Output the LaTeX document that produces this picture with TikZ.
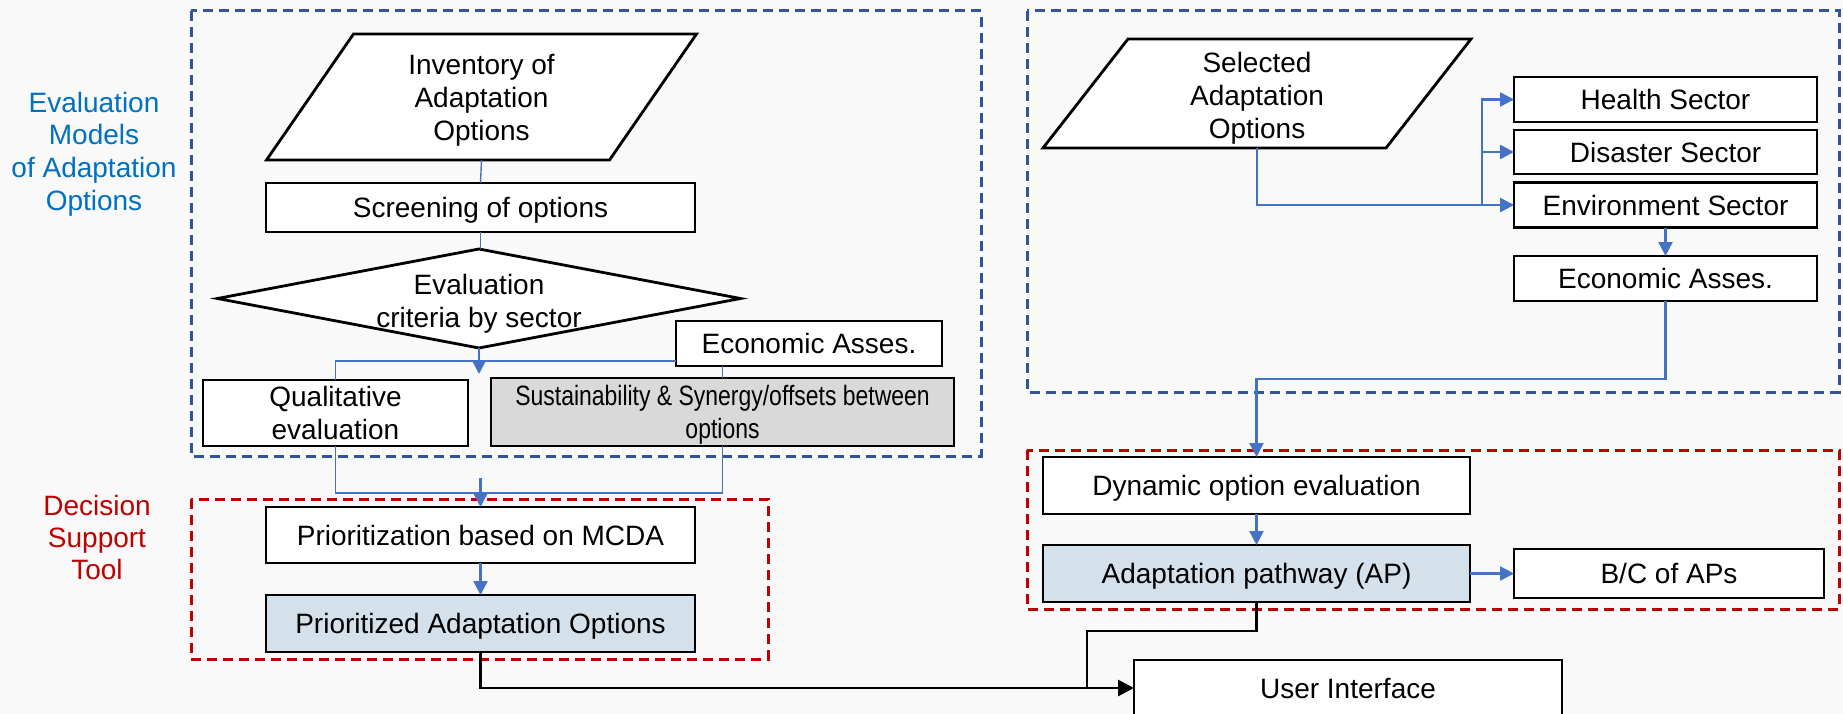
\documentclass[tikz,border=0pt]{standalone}
\usepackage{fontspec}
\setmainfont{Liberation Sans}
\newfontfamily\narrowfont{Liberation Sans}[FakeStretch=0.82]
\usetikzlibrary{arrows.meta,shapes.geometric,calc}

\definecolor{pagebg}{HTML}{F9F9F9}
\definecolor{frameblue}{HTML}{2F5597}
\definecolor{linkblue}{HTML}{4472C4}
\definecolor{framered}{HTML}{C00000}
\definecolor{labelblue}{HTML}{0070C0}
\definecolor{apfill}{HTML}{D5E1EA}
\definecolor{grayfill}{HTML}{D9D9D9}

% outline of a slanted (parallelogram) input box around a named node
\newcommand{\drawslant}[2]{%
  \draw[boxline,fill=white]
    ($(#1.north west)+(#2,0)$) -- ($(#1.north east)+(#2,0)$) --
    ($(#1.south east)+(-#2,0)$) -- ($(#1.south west)+(-#2,0)$) -- cycle;}

\begin{document}
\begin{tikzpicture}[x=1pt,y=-1pt,
  every node/.style={font=\fontsize{28pt}{33pt}\selectfont, inner sep=0pt, outer sep=0pt, text depth=0pt},
  boxline/.style={draw=black, line width=2.8pt, line join=miter},
  box/.style={boxline, fill=white, align=center},
  slanttext/.style={align=center},
  group blue/.style={draw=frameblue, line width=3pt, dash pattern=on 10pt off 6pt},
  group red/.style={draw=framered, line width=3pt, dash pattern=on 10pt off 6pt},
  link/.style={draw=linkblue, line width=2.5pt, -{Triangle[length=14pt,width=14pt]}},
  thinlink/.style={draw=linkblue, line width=1.4pt},
  blackline/.style={draw=black, line width=2.8pt},
  blackarrow/.style={draw=black, line width=2.8pt, -{Triangle[length=16pt,width=16pt]}}
]
\useasboundingbox (0,0) rectangle (1843,714);
\clip (0,0) rectangle (1843,714);
\fill[pagebg] (0,0) rectangle (1843,714);

% group frames
\draw[group blue] (191,11) rectangle (981,456);
\draw[group red] (191,499) rectangle (768,659);
\draw[group blue] (1027,11) rectangle (1839,392);
\draw[group red] (1027,450) rectangle (1839,609);

% side labels
\node[text=labelblue, align=center, font=\fontsize{28pt}{32.7pt}\selectfont] (evlabel) at (94,151)
  {Evaluation\\Models\\of Adaptation\\Options};
\node[text=framered, align=center, font=\fontsize{28pt}{32pt}\selectfont] (dslabel) at (97,537)
  {Decision\\Support\\Tool};

% ---------- left flow ----------
\node[slanttext, minimum width=343, minimum height=126] (inv) at (481.5,97) {};
\drawslant{inv}{43.5}
\node[align=center] (invtext) at (inv) {Inventory of\\Adaptation\\Options};

\node[box, minimum width=429, minimum height=49] (scr) at (480.5,207.5) {Screening of options};

\node[shape=diamond, boxline, fill=white, minimum width=523, minimum height=99] (dia) at (479,298.5) {};
\node[align=center] (diatext) at (479,300.5) {Evaluation\\criteria by sector};

\node[box, minimum width=266, minimum height=45] (econL) at (809,343.5) {Economic Asses.};
\node[box, minimum width=265, minimum height=66] (qual) at (335.5,413) {Qualitative\\evaluation};
\node[box, fill=grayfill, minimum width=463, minimum height=68, font=\narrowfont\fontsize{28pt}{33pt}\selectfont] (sust) at (722.5,412)
  {Sustainability \& Synergy/offsets between\\options};

\node[box, minimum width=429, minimum height=56] (prio) at (480.5,535) {Prioritization based on MCDA};
\node[box, fill=apfill, minimum width=429, minimum height=57] (prioAO) at (480.5,623.5) {Prioritized Adaptation Options};

\coordinate (split) at (479,374);
\coordinate (merge) at (480.5,478);

\draw[thinlink] (inv.south) -- (scr.north);
\draw[thinlink] (scr.south) -- (scr.south |- dia.north);
\draw[thinlink] (qual.north) |- ($(econL.south west)+(0,-5)$);
\draw[thinlink] (econL.south -| sust.north) -- (sust.north);
\draw[link] (dia.south) -- (split);
\draw[thinlink] (qual.south) -- ++(0,47) -| (sust.south);
\draw[link] (merge) -- (prio.north);
\draw[link] (prio.south) -- (prioAO.north);

% ---------- right flow ----------
\node[slanttext, minimum width=343, minimum height=109] (sel) at (1257,93.5) {};
\drawslant{sel}{42.5}
\node[align=center] (seltext) at (1257,95) {Selected\\Adaptation\\Options};

\node[box, minimum width=303, minimum height=45] (health) at (1665.5,99.5) {Health Sector};
\node[box, minimum width=303, minimum height=44] (disaster) at (1665.5,152) {Disaster Sector};
\node[box, minimum width=303, minimum height=45] (env) at (1665.5,205) {Environment Sector};
\node[box, minimum width=303, minimum height=45] (econR) at (1665.5,278.5) {Economic Asses.};

\node[box, minimum width=427, minimum height=57] (dyn) at (1256.5,485.5) {Dynamic option evaluation};
\node[box, fill=apfill, minimum width=427, minimum height=57] (ap) at (1256.5,573.5) {Adaptation pathway (AP)};
\node[box, minimum width=310, minimum height=49] (bc) at (1669,573.5) {B/C of APs};

\node[box, minimum width=428, minimum height=56] (ui) at (1348,688) {User Interface};

\draw[link] (sel.south) |- (env.west);
\draw[link] ($(env.west)+(-32,0)$) |- (health.west);
\draw[link] ($(env.west)+(-32,0)$) |- (disaster.west);
\draw[link] (env.south) -- (econR.north);
\draw[link] (econR.south) -- ++(0,78) -| (dyn.north);
\draw[link] (dyn.south) -- (ap.north);
\draw[link] (ap.east) -- (bc.west);

% ---------- to the user interface ----------
\draw[blackline] (ap.south) -- ++(0,29) -| ($(ui.west)+(-47,0)$);
\draw[blackarrow] (prioAO.south) |- (ui.west);
\end{tikzpicture}
\end{document}
